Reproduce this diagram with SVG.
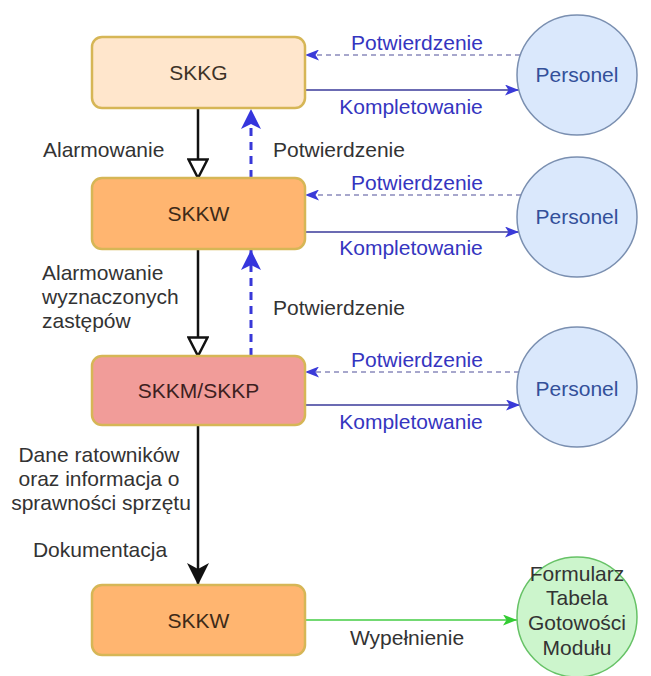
<svg xmlns="http://www.w3.org/2000/svg" width="651" height="676" viewBox="0 0 651 676">
<defs>
<style>
text{font-family:"Liberation Sans",Arial,sans-serif;font-size:21px}
.lbl{fill:#333333}
.blue{fill:#3535c0}
.pers{fill:#33509a}
.node{stroke:#D6B656;stroke-width:2.5}
.circ{fill:#DAE8FC;stroke:#7a8fb0;stroke-width:1.5}
.blk{stroke:#111;stroke-width:2.5;fill:none}
.bdash{stroke:#3838d8;stroke-width:3;stroke-dasharray:8 6;fill:none}
.pdash{stroke:#50509a;stroke-width:1.2;stroke-dasharray:5 4;fill:none}
.psol{stroke:#3a3a9a;stroke-width:1.5;fill:none}
.gsol{stroke:#44cc44;stroke-width:1.5;fill:none}
</style>
<marker id="hollow" viewBox="0 0 22 22" refX="20" refY="11" markerWidth="22" markerHeight="22" markerUnits="userSpaceOnUse" orient="auto"><path d="M1.5,1.5 L20,11 L1.5,20.5 Z" fill="#fff" stroke="#111" stroke-width="2.5"/></marker>
<marker id="bigblue" viewBox="0 0 20 20" refX="20" refY="10" markerWidth="20" markerHeight="20" markerUnits="userSpaceOnUse" orient="auto"><path d="M0,0 L20,10 L0,20 L5,10 Z" fill="#3535dd"/></marker>
<marker id="blackfill" viewBox="0 0 22 22" refX="22" refY="11" markerWidth="22" markerHeight="22" markerUnits="userSpaceOnUse" orient="auto"><path d="M0,0 L22,11 L0,22 L6,11 Z" fill="#111"/></marker>
<marker id="smblue" viewBox="0 0 14 11" refX="14" refY="5.5" markerWidth="14" markerHeight="11" markerUnits="userSpaceOnUse" orient="auto"><path d="M0,0 L14,5.5 L0,11 L3.5,5.5 Z" fill="#3a3ad8"/></marker>
<marker id="smgreen" viewBox="0 0 14 11" refX="14" refY="5.5" markerWidth="14" markerHeight="11" markerUnits="userSpaceOnUse" orient="auto"><path d="M0,0 L14,5.5 L0,11 L3.5,5.5 Z" fill="#33cc33"/></marker>
</defs>
<rect width="651" height="676" fill="#ffffff"/>

<g id="connectors">
<line class="blk" x1="198" y1="108" x2="198" y2="178" marker-end="url(#hollow)"/>
<line class="bdash" x1="251" y1="178" x2="251" y2="109" marker-end="url(#bigblue)"/>
<line class="blk" x1="198" y1="249" x2="198" y2="356" marker-end="url(#hollow)"/>
<line class="bdash" x1="251" y1="356" x2="251" y2="250" marker-end="url(#bigblue)"/>
<line class="blk" x1="198" y1="425" x2="198" y2="585" marker-end="url(#blackfill)"/>

<line class="pdash" x1="520" y1="55" x2="305" y2="55" marker-end="url(#smblue)"/>
<line class="psol" x1="305" y1="90" x2="519" y2="90" marker-end="url(#smblue)"/>
<line class="pdash" x1="521" y1="195" x2="305" y2="195" marker-end="url(#smblue)"/>
<line class="psol" x1="305" y1="232" x2="519" y2="232" marker-end="url(#smblue)"/>
<line class="pdash" x1="519" y1="372" x2="305" y2="372" marker-end="url(#smblue)"/>
<line class="psol" x1="305" y1="405" x2="520" y2="405" marker-end="url(#smblue)"/>
<line class="gsol" x1="305" y1="620" x2="517" y2="620" marker-end="url(#smgreen)"/>

<text class="lbl" x="43" y="157">Alarmowanie</text>
<text class="lbl" x="273" y="157">Potwierdzenie</text>
<text class="lbl" x="42" y="280">Alarmowanie</text>
<text class="lbl" x="42" y="304">wyznaczonych</text>
<text class="lbl" x="42" y="328">zastępów</text>
<text class="lbl" x="273" y="315">Potwierdzenie</text>
<text class="lbl" x="99" y="462" text-anchor="middle">Dane ratowników</text>
<text class="lbl" x="99" y="486" text-anchor="middle">oraz informacja o</text>
<text class="lbl" x="101" y="510" text-anchor="middle">sprawności sprzętu</text>
<text class="lbl" x="100" y="557" text-anchor="middle">Dokumentacja</text>
<text class="lbl" x="407" y="645" text-anchor="middle">Wypełnienie</text>

<text class="blue" x="417" y="50" text-anchor="middle">Potwierdzenie</text>
<text class="blue" x="411" y="114" text-anchor="middle">Kompletowanie</text>
<text class="blue" x="417" y="190" text-anchor="middle">Potwierdzenie</text>
<text class="blue" x="411" y="255" text-anchor="middle">Kompletowanie</text>
<text class="blue" x="417" y="367" text-anchor="middle">Potwierdzenie</text>
<text class="blue" x="411" y="429" text-anchor="middle">Kompletowanie</text>
</g>

<g id="skkg">
<rect class="node" x="92" y="37" width="213" height="71" rx="10" fill="#FFE6CC"/>
<text x="198.5" y="80" text-anchor="middle" fill="#3d3328">SKKG</text>
</g>
<g id="skkw1">
<rect class="node" x="92" y="178" width="213" height="71" rx="10" fill="#FFB570"/>
<text x="198.5" y="221" text-anchor="middle" fill="#3d2a18">SKKW</text>
</g>
<g id="skkm">
<rect class="node" x="92" y="356" width="213" height="69" rx="10" fill="#F19C99"/>
<text x="198.5" y="398" text-anchor="middle" fill="#3d1f1f">SKKM/SKKP</text>
</g>
<g id="skkw2">
<rect class="node" x="92" y="585" width="213" height="70" rx="10" fill="#FFB570"/>
<text x="198.5" y="628" text-anchor="middle" fill="#3d2a18">SKKW</text>
</g>

<g id="personel1">
<circle class="circ" cx="577" cy="75" r="60"/>
<text class="pers" x="577" y="82" text-anchor="middle">Personel</text>
</g>
<g id="personel2">
<circle class="circ" cx="577" cy="217" r="60"/>
<text class="pers" x="577" y="224" text-anchor="middle">Personel</text>
</g>
<g id="personel3">
<circle class="circ" cx="577" cy="387" r="60"/>
<text class="pers" x="577" y="396" text-anchor="middle">Personel</text>
</g>
<g id="formularz">
<circle cx="577" cy="617" r="60" fill="#CCF5CC" stroke="#66c266" stroke-width="1.5"/>
<text class="lbl" x="577" y="581" text-anchor="middle">Formularz</text>
<text class="lbl" x="577" y="605" text-anchor="middle">Tabela</text>
<text class="lbl" x="577" y="630" text-anchor="middle">Gotowości</text>
<text class="lbl" x="577" y="655" text-anchor="middle">Modułu</text>
</g>
</svg>
